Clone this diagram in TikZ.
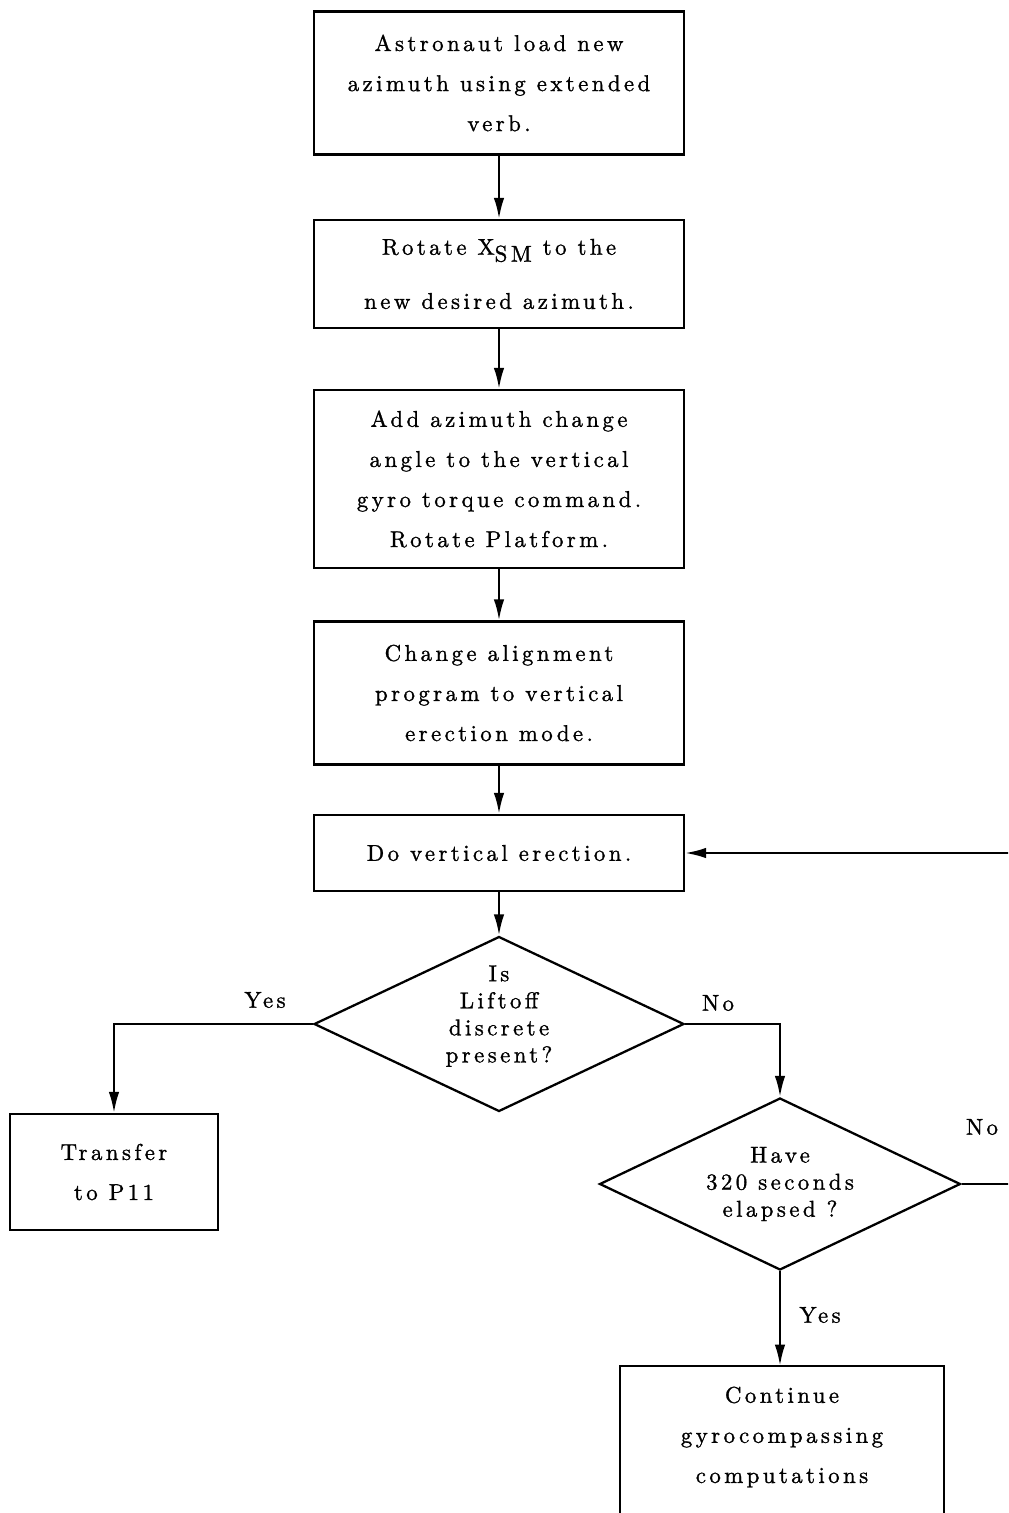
\documentclass[tikz,border=0pt]{standalone}
\usepackage{fontspec}
\setmainfont{lmroman10-regular}[Extension=.otf,LetterSpace=15,FakeBold=1.2]
\usepackage{tikz}
\usetikzlibrary{shapes.geometric,arrows.meta}

\newcommand{\boxfont}{\fontsize{13}{22.8}\selectfont}
\newcommand{\askfont}{\fontsize{13}{15.4}\selectfont}

\begin{document}
\begin{tikzpicture}[x=0.02cm,y=-0.02cm]
\tikzstyle{every node}+=[inner sep=0pt]
\tikzstyle{stepbox}=[draw,line width=1.3pt,minimum width=7.4cm,align=center,font=\boxfont]
\tikzstyle{ask}=[draw,diamond,aspect=2.1,line width=1.3pt,align=center,font=\askfont]
\tikzstyle{flow}=[line width=1.3pt,-{Latex[length=12pt,width=6pt]}]
\tikzstyle{answer}=[font=\boxfont]
\useasboundingbox (0,0) rectangle (1008,1513);
\clip (0,0) rectangle (1008,1513);
\node[stepbox,minimum height=2.86cm] (load) at (499,83) {Astronaut load new\\azimuth using extended\\verb.};
\node[stepbox,minimum height=2.16cm] (rotate) at (499,274) {Rotate X\raisebox{-0.7ex}{SM} to the\\[8pt]new desired azimuth.};
\node[stepbox,minimum height=3.56cm] (torque) at (499,479) {Add azimuth change\\angle to the vertical\\gyro torque command.\\Rotate Platform.};
\node[stepbox,minimum height=2.86cm] (mode) at (499,693) {Change alignment\\program to vertical\\erection mode.};
\node[stepbox,minimum height=1.52cm] (erect) at (499,853) {Do vertical erection.};
\node[ask,minimum width=7.4cm,minimum height=3.5cm] (liftoff) at (499,1024) {Is\\Liftoff\\discrete\\present?\\[-4pt]\mbox{}};
\node[stepbox,minimum width=4.16cm,minimum height=2.32cm] (p11) at (114,1172) {Transfer\\to P11};
\node[ask,minimum width=7.22cm,minimum height=3.44cm] (elapsed) at (780,1184) {Have\\320 seconds\\elapsed ?};
\node[align=center,font=\boxfont,minimum width=6.48cm,minimum height=2.84cm] (gyro) at (782,1437) {Continue\\gyrocompassing\\computations};
\draw[line width=1.3pt] ([yshift=-1cm]gyro.south west) |- (gyro.north east) -- ([yshift=-1cm]gyro.south east);
\coordinate (back) at (1040,853);
% connectors
\draw[flow] (load) -- (rotate);
\draw[flow] (rotate) -- (torque);
\draw[flow] (torque) -- (mode);
\draw[flow] (mode) -- (erect);
\draw[flow] (erect) -- (liftoff);
\draw[flow] (liftoff.west) -| (p11.north);
\draw[flow] (liftoff.east) -| (elapsed.north);
\draw[flow] (elapsed.south) -- (elapsed.south |- gyro.north);
\draw[flow] (elapsed.east) -| (back) |- (erect.east);
\node[answer] (yes1) at (265,1000) {Yes};
\node[answer] (no1) at (718,1003) {No};
\node[answer] (no2) at (982,1127) {No};
\node[answer] (yes2) at (820,1315) {Yes};
\end{tikzpicture}
\end{document}
